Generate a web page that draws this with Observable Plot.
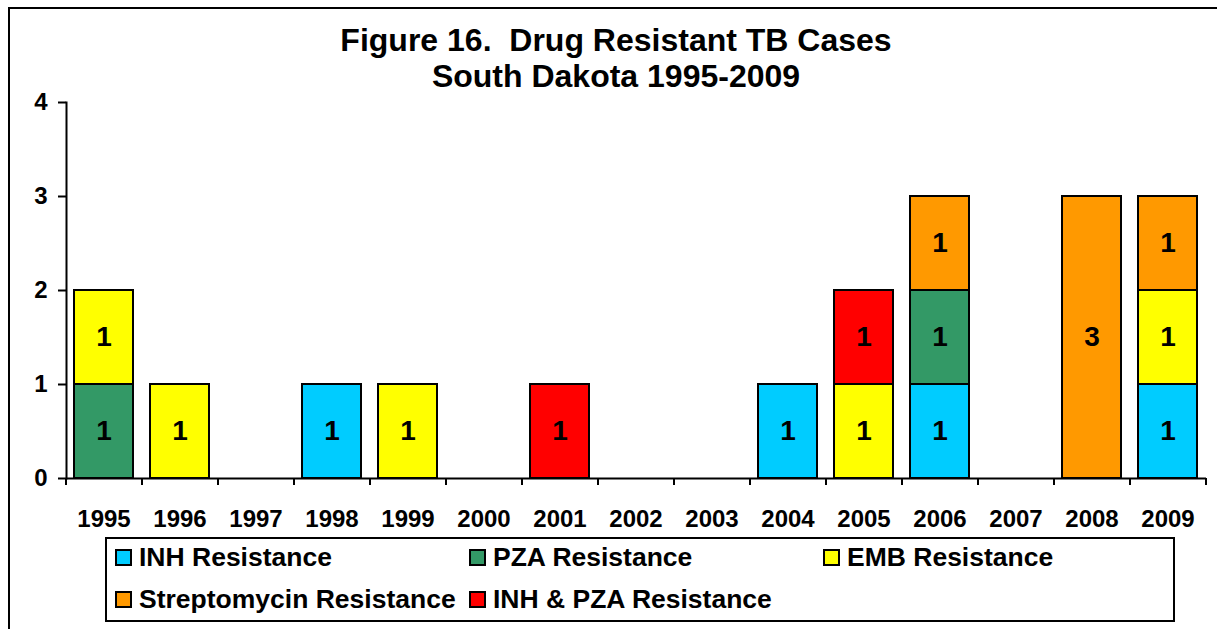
<!DOCTYPE html>
<html><head><meta charset="utf-8">
<script src="https://cdn.jsdelivr.net/npm/d3@7"></script>
<script src="https://cdn.jsdelivr.net/npm/@observablehq/plot@0.6"></script>
<style>
body{margin:0;background:#fff;font-family:"Liberation Sans",Arial,sans-serif;}
#wrap{position:relative;width:1217px;height:629px;overflow:hidden;background:#fff;}
#chart{position:absolute;left:0;top:0;}
#frame{position:absolute;left:8px;top:7px;width:1300px;height:700px;border-top:2px solid #000;border-left:2px solid #000;pointer-events:none;}
#title{position:absolute;left:0;width:1232px;top:22px;text-align:center;font-weight:bold;font-size:32px;line-height:36px;white-space:pre;color:#000;}
#legend{position:absolute;left:105px;top:537px;border:2px solid #000;background:#fff;
  display:grid;grid-template-columns:354px 354px 354px;grid-auto-rows:36px;row-gap:6px;padding-left:8px;box-sizing:border-box;width:1070px;height:85px;}
.item{display:flex;align-items:center;font-weight:bold;font-size:26.5px;color:#000;white-space:nowrap;}
.sw{width:13px;height:13px;border:2px solid #000;margin-right:7px;flex:none;}
</style>
</head><body>
<div id="wrap">
  <div id="chart"></div>
  <div id="frame"></div>
  <div id="title"></div>
  <div id="legend"></div>
</div>
<script>
const titleLines = ["Figure 16.  Drug Resistant TB Cases", "South Dakota 1995-2009"];
const years = ["1995","1996","1997","1998","1999","2000","2001","2002","2003","2004","2005","2006","2007","2008","2009"];
const series = ["INH Resistance","PZA Resistance","EMB Resistance","Streptomycin Resistance","INH & PZA Resistance"];
const colors = ["#00CCFF","#339966","#FFFF00","#FF9900","#FF0000"];
const inh    = [0,0,0,1,0,0,0,0,0,1,0,1,0,0,1];
const pza    = [1,0,0,0,0,0,0,0,0,0,0,1,0,0,0];
const emb    = [1,1,0,0,1,0,0,0,0,0,1,0,0,0,1];
const strep  = [0,0,0,0,0,0,0,0,0,0,0,1,0,3,1];
const inhpza = [0,0,0,0,0,0,1,0,0,0,1,0,0,0,0];
const yTicks = [0,1,2,3,4];

const values = [inh, pza, emb, strep, inhpza];
const rows = [];
series.forEach((s, i) => years.forEach((y, j) => {
  if (values[i][j] > 0) rows.push({year: y, series: s, value: values[i][j]});
}));

const W = 1217, H = 629, ML = 66, MR = 11, MT = 102, MB = 151;
const step = (W - ML - MR) / years.length;
const font = '"Liberation Sans", Arial, sans-serif';

const chart = Plot.plot({
  width: W, height: H,
  marginLeft: ML, marginRight: MR, marginTop: MT, marginBottom: MB,
  style: {fontFamily: font, fontWeight: "bold", background: "transparent", color: "#000"},
  x: {domain: years, paddingInner: 0.22, paddingOuter: 0.11},
  y: {domain: [0, 4]},
  color: {domain: series, range: colors},
  marks: [
    Plot.barY(rows, Plot.stackY({x: "year", y: "value", fill: "series", order: series, stroke: "#000", strokeWidth: 2})),
    Plot.text(rows, Plot.stackY({x: "year", y: "value", z: "series", order: series, text: d => String(d.value), fontSize: 28, fontWeight: "bold", fill: "#000"})),
    Plot.ruleY([0], {stroke: "#000", strokeWidth: 2}),
    Plot.frame({anchor: "left", stroke: "#000", strokeWidth: 2}),
    Plot.ruleX(years, {x: d => d, dx: -step / 2, y1: 0, y2: 0, insetTop: 7, stroke: "#000", strokeWidth: 2}),
    Plot.ruleX(years.slice(-1), {x: d => d, dx: step / 2, y1: 0, y2: 0, insetTop: 7, stroke: "#000", strokeWidth: 2}),
    Plot.axisY({ticks: yTicks, tickSize: 8, tickPadding: 11, fontSize: 24, fontWeight: "bold", label: null, tickFormat: d => String(d), strokeWidth: 2}),
    Plot.axisX({tickSize: 0, tickPadding: 31, fontSize: 24, fontWeight: "bold", label: null})
  ]
});
document.getElementById("chart").appendChild(chart);

const t = document.getElementById("title");
titleLines.forEach(l => { const d = document.createElement("div"); d.textContent = l; t.appendChild(d); });

const lg = document.getElementById("legend");
series.forEach((s, i) => {
  const it = document.createElement("div"); it.className = "item";
  const sw = document.createElement("span"); sw.className = "sw"; sw.style.background = colors[i];
  const tx = document.createElement("span"); tx.textContent = s;
  it.appendChild(sw); it.appendChild(tx); lg.appendChild(it);
});
</script>
</body></html>
